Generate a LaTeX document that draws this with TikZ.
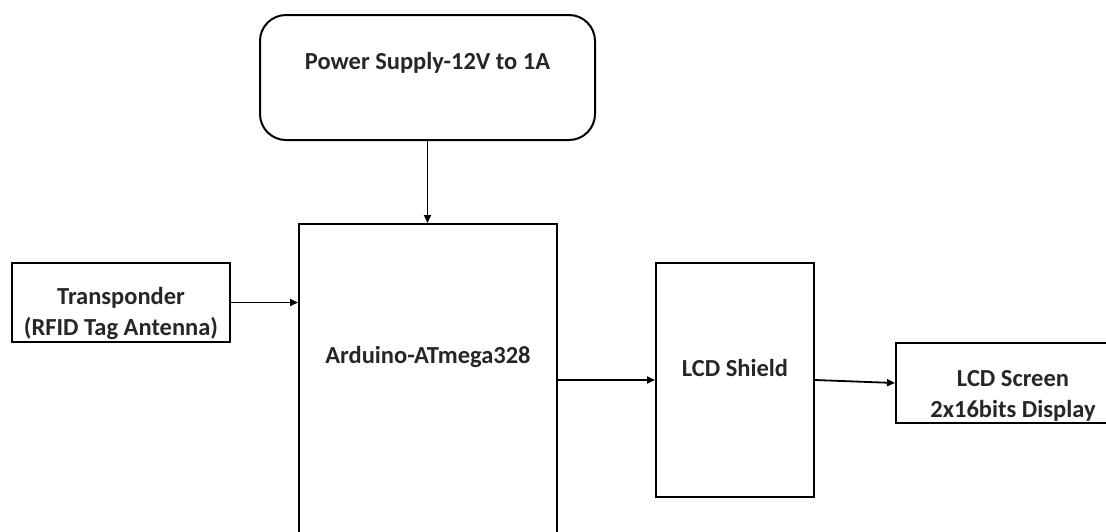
\documentclass[tikz,border=0pt]{standalone}
\usepackage{fontspec}
\setmainfont{Carlito}
\usepackage{tikz}
\usetikzlibrary{arrows.meta, positioning}
\newcommand{\boxtext}[2]{\raisebox{#1}[0pt][0pt]{\begin{tabular}{@{}c@{}}#2\end{tabular}}}

\begin{document}
\begin{tikzpicture}[
          x=1pt, y=-1pt,
          blk/.style={rectangle, draw=black, line width=2pt,
                      inner sep=0pt, font=\fontsize{24.5}{31}\selectfont\bfseries,
                      text=black!85},
          arr/.style={-{Triangle[length=8pt, width=7pt]}, line width=1.8pt}
        ]
        \useasboundingbox (0,0) rectangle (1106,531);
        \clip (0,0) rectangle (1106,531);

        \node[blk, rounded corners=26pt, minimum width=335pt,
              minimum height=125pt] (psu) at (427.5, 77.5)
              {\boxtext{8pt}{Power Supply-12V to 1A}};
        \node[blk, minimum width=258pt, minimum height=340pt]
              (mcu) at (428, 394) {\boxtext{30pt}{Arduino-ATmega328}};
        \node[blk, minimum width=218pt, minimum height=79pt]
              (tag) at (121, 302.5)
              {\boxtext{-18pt}{Transponder\\(RFID Tag Antenna)}};
        \node[blk, minimum width=158pt, minimum height=234pt]
              (shield) at (735, 380) {\boxtext{3pt}{LCD Shield}};
        \node[blk, minimum width=234pt, minimum height=80pt]
              (screen) at (1013, 383)
              {\boxtext{-19pt}{LCD Screen\\2x16bits Display}};

        % signal paths
        \draw[arr] (psu.south) -- (psu.south |- mcu.north);
        \draw[arr] (tag.east) -- (tag.east -| mcu.west);
        \draw[arr] (shield.west -| mcu.east) -- (shield.west);
        \draw[arr] (shield.east) -- (screen.west);
      \end{tikzpicture}
\end{document}
